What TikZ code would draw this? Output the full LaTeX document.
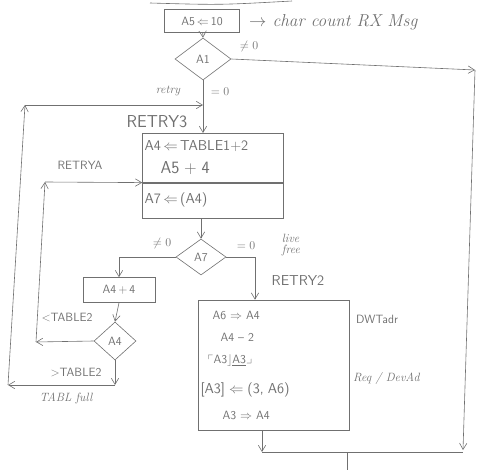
\documentclass[tikz,border=0pt]{standalone}
\usepackage{amssymb}
\usetikzlibrary{shapes.geometric, arrows.meta}
\definecolor{pencil}{HTML}{707070}
\tikzset{
  box/.style={rectangle, draw=pencil, line width=0.6pt, text=pencil, font=\sffamily,
              align=center, inner sep=2pt},
  test/.style={diamond, draw=pencil, line width=0.6pt, text=pencil, font=\sffamily\large,
               inner sep=0pt},
  flow/.style={-{Straight Barb[length=2.2mm, width=2.6mm]}, line width=0.6pt, draw=pencil},
  wire/.style={line width=0.6pt, draw=pencil},
  lbl/.style={text=pencil, font=\sffamily\large, inner sep=1pt},
  note/.style={text=pencil, font=\itshape\large, inner sep=1pt},
}

\begin{document}
\begin{tikzpicture}[x=1pt, y=-1pt]
  \useasboundingbox (0,0) rectangle (489,470);
  % end of the box above
  \draw[wire] (150,3) .. controls (220,5) .. (292,1);

  \node[box, font=\sffamily\large, minimum width=75, minimum height=23] (init) at (202,21) {A5\,$\Leftarrow$\,10};
  \node[note, anchor=west, font=\itshape\LARGE] (cnt) at (248,22) {$\to$ char count RX Msg};
  \node[test, minimum width=56, minimum height=42] (a1) at (203,59) {A1};

  \node[box, font=\sffamily\Large, text width=137, align=left, minimum height=49, anchor=north] (load) at (213,133)
    {A4\,$\Leftarrow$\,TABLE1+2\\[5pt]{\LARGE\hspace*{16pt}A5 + 4}};
  \node[box, font=\sffamily\Large, text width=137, align=left, minimum height=35, anchor=north] (fetch) at (load.south) {A7\,$\Leftarrow$\,(A4)};
  \node[test, minimum width=50, minimum height=36] (a7) at (201,257) {A7};
  \node[box, font=\sffamily\large, minimum width=72, minimum height=25] (incr) at (119,290) {A4\,+\,4};
  \node[test, minimum width=42, minimum height=38] (a4) at (115,341) {A4};

  \node[box, font=\sffamily\large, text width=147, align=left, minimum height=130] (alloc) at (274,365)
    {\hspace*{12pt}A6 $\Rightarrow$ A4\\[8pt]
     \hspace*{20pt}A4 -- 2\\[8pt]
     \hspace*{7pt}$\ulcorner$A3$\rfloor$\underline{A3}$\lrcorner$\\[16pt]
     {\Large [A3] $\Leftarrow$ (3, A6)}\\[12pt]
     \hspace*{22pt}A3 $\Rightarrow$ A4};
  \node[lbl, anchor=west] (dwt) at (355,319) {DWTadr};
  \node[note, anchor=west] (dev) at (352,378) {Req / DevAd};

  % branch labels
  \node[lbl] (ne1) at (249,47) {$\neq 0$};
  \node[lbl] (eq1) at (220,92) {$=0$};
  \node[note] (rty) at (168,91) {retry};
  \node[lbl, font=\sffamily\LARGE] (r3) at (157,122) {RETRY3};
  \node[lbl] (ra) at (80,165) {RETRYA};
  \node[lbl] (ne7) at (162,243) {$\neq 0$};
  \node[lbl] (eq7) at (246,246) {$=0$};
  \node[note, align=left] (lf) at (291,245) {live\\[-3pt]free};
  \node[lbl, font=\sffamily\Large] (r2) at (298,281) {RETRY2};
  \node[lbl] (lt2) at (67,317) {$<$TABLE2};
  \node[lbl] (gt2) at (76,372) {$>$TABLE2};
  \node[note] (tf) at (66,398) {TABL full};

  \coordinate (rt) at (475,70);
  \coordinate (rb) at (463,450);
  \coordinate (jl) at (262,452);
  \coordinate (join) at (347,452);
  \coordinate (exit) at (347,470);
  \coordinate (full) at (8,385);
  \coordinate (top) at (25,105);
  \coordinate (lt) at (36,342);
  \coordinate (lu) at (45,182);

  \draw[flow] (init) -- (a1.north);
  \draw[flow] (a1.south) -- (a1.south |- load.north);
  \draw[flow] (a1.east) -- (rt);
  \draw[flow] (rt) -- (rb);
  \draw[flow] (a7.north |- fetch.south) -- (a7.north);
  \draw[flow] (a7.west) -| (incr.north);
  \draw[flow] (a7.east) -| ([xshift=-19pt]alloc.north);
  \draw[flow] (incr.south) -- (a4.north);
  % table full
  \draw[flow] (a4.south) -- (a4.south |- full);
  \draw[flow] (a4.south |- full) -- (full);
  \draw[flow] (full) -- (top);
  \draw[flow] (top) -- (top -| a1.south);
  % next entry
  \draw[flow] (a4.west) -- (lt);
  \draw[flow] (lt) -- (lu);
  \draw[flow] (lu) -- (load.south west);
  % exit
  \draw[flow] ([xshift=-12pt]alloc.south) -- ([xshift=-12pt]alloc.south |- jl);
  \draw[wire] (jl) -- (rb |- jl);
  \draw[wire] (join) -- (exit);
\end{tikzpicture}
\end{document}
